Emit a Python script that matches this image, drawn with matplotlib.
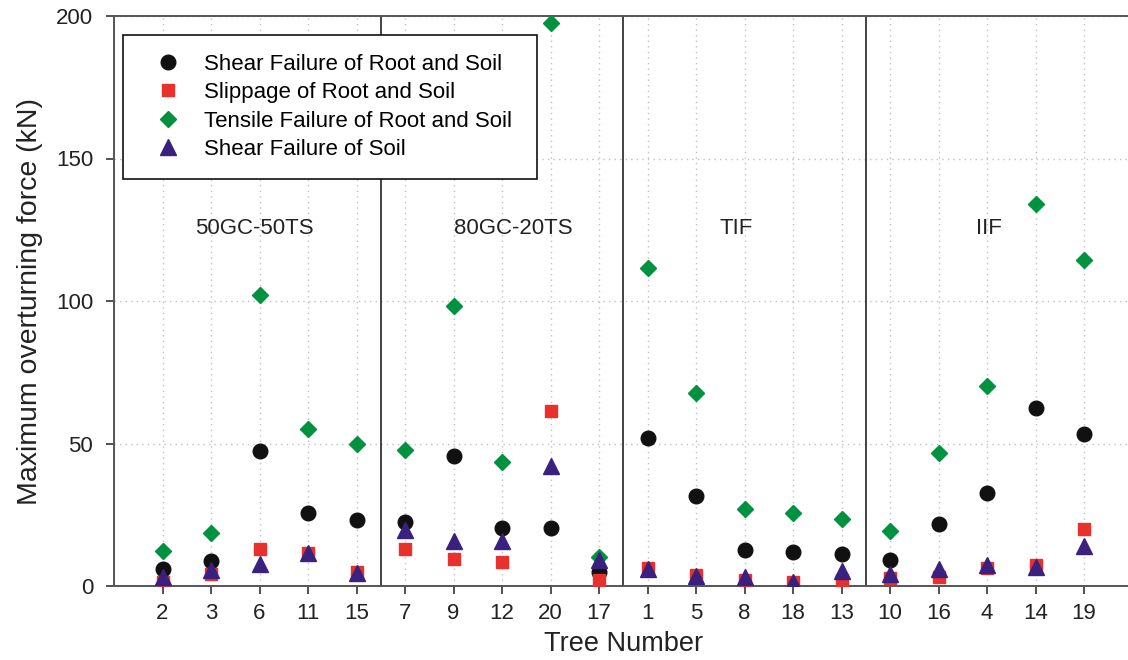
import numpy as np
import matplotlib
matplotlib.use('Agg')
import matplotlib.pyplot as plt

plt.rcParams['font.family'] = ['Liberation Sans', 'DejaVu Sans']

# trees in plotting order, grouped by stand
tree_numbers = ['2', '3', '6', '11', '15', '7', '9', '12', '20', '17',
                '1', '5', '8', '18', '13', '10', '16', '4', '14', '19']
group_names = ['50GC-50TS', '80GC-20TS', 'TIF', 'IIF']
group_label_x = [2.9, 8.24, 12.82, 18.04]
group_label_y = 125.5

# maximum overturning force (kN) per failure mode
shear_root_soil = [6.1, 8.9, 47.6, 25.6, 23.2, 22.4, 45.8, 20.3, 20.3, 4.9,
                   52.0, 31.7, 12.7, 12.0, 11.2, 9.2, 21.8, 32.6, 62.4, 53.3]
slippage = [1.6, 4.2, 13.2, 11.8, 5.1, 13.1, 9.7, 8.5, 61.5, 2.2,
            6.3, 4.0, 2.2, 1.4, 2.2, 2.8, 3.4, 6.3, 7.5, 20.1]
tensile = [12.5, 18.8, 102.2, 55.0, 49.9, 47.7, 98.3, 43.5, 197.6, 10.4,
           111.6, 67.9, 27.2, 25.6, 23.5, 19.5, 46.6, 70.2, 134.0, 114.3]
shear_soil = [3.2, 5.7, 7.7, 11.6, 4.8, 19.7, 15.8, 15.9, 42.2, 9.2,
              5.9, 3.6, 3.2, 1.6, 5.3, 4.2, 5.9, 7.5, 6.7, 14.1]

x = np.arange(1, len(tree_numbers) + 1)

fig = plt.figure(figsize=(11.28, 6.6), dpi=100)
W, H = 1128, 660
ax = fig.add_axes([114 / W, (H - 586.3) / H, 21 * 48.5 / W, 570.4 / H])

ax.plot(x, shear_root_soil, 'o', color='#111111', markersize=10.5, ls='none',
        label='Shear Failure of Root and Soil', zorder=3)
ax.plot(x, slippage, 's', color='#e8312d', markersize=9, ls='none',
        label='Slippage of Root and Soil', zorder=3)
ax.plot(x, tensile, 'D', color='#00923f', markersize=8.5, ls='none',
        label='Tensile Failure of Root and Soil', zorder=3)
ax.plot(x, shear_soil, '^', color='#3a2180', markersize=11, ls='none',
        label='Shear Failure of Soil', zorder=3)

for sep in [5.5, 10.5, 15.5]:
    ax.axvline(sep, color='#222222', lw=1.2, zorder=2)

for name, gx in zip(group_names, group_label_x):
    ax.text(gx, group_label_y, name, ha='center', va='center',
            fontsize=16, color='#222222')

ax.set_xlim(0, 21)
ax.set_ylim(0, 200)
ax.set_xticks(x)
ax.set_xticklabels(tree_numbers)
ax.set_yticks([0, 50, 100, 150, 200])
ax.grid(True, ls=(0, (1, 3)), color='#c0c0c0', lw=1)
ax.set_axisbelow(True)
ax.tick_params(direction='out', length=6, width=1.2, labelsize=16,
               colors='#333333', labelcolor='#222222')
ax.tick_params(axis='y', pad=9)
ax.tick_params(axis='x', pad=6)
for side in ['left', 'top', 'bottom']:
    ax.spines[side].set_color('#555555')
    ax.spines[side].set_linewidth(1.4)
ax.spines['right'].set_visible(False)

ax.set_xlabel('Tree Number', fontsize=19.5, color='#222222', labelpad=5)
ax.set_ylabel('Maximum overturning force (kN)', fontsize=20.5, color='#222222',
              labelpad=9)

leg = ax.legend(loc='upper left', bbox_to_anchor=(123 / W, 1 - 35 / H, (537 - 123) / W, 0),
                bbox_transform=fig.transFigure, mode='expand', borderaxespad=0,
                fontsize=16, frameon=True, fancybox=False, framealpha=1,
                edgecolor='#111111', borderpad=0.85, handlelength=2.35,
                handletextpad=0.45, labelspacing=0.33)
leg.get_frame().set_linewidth(1.2)
leg.set_zorder(5)

fig.savefig('out.png', dpi=100)
